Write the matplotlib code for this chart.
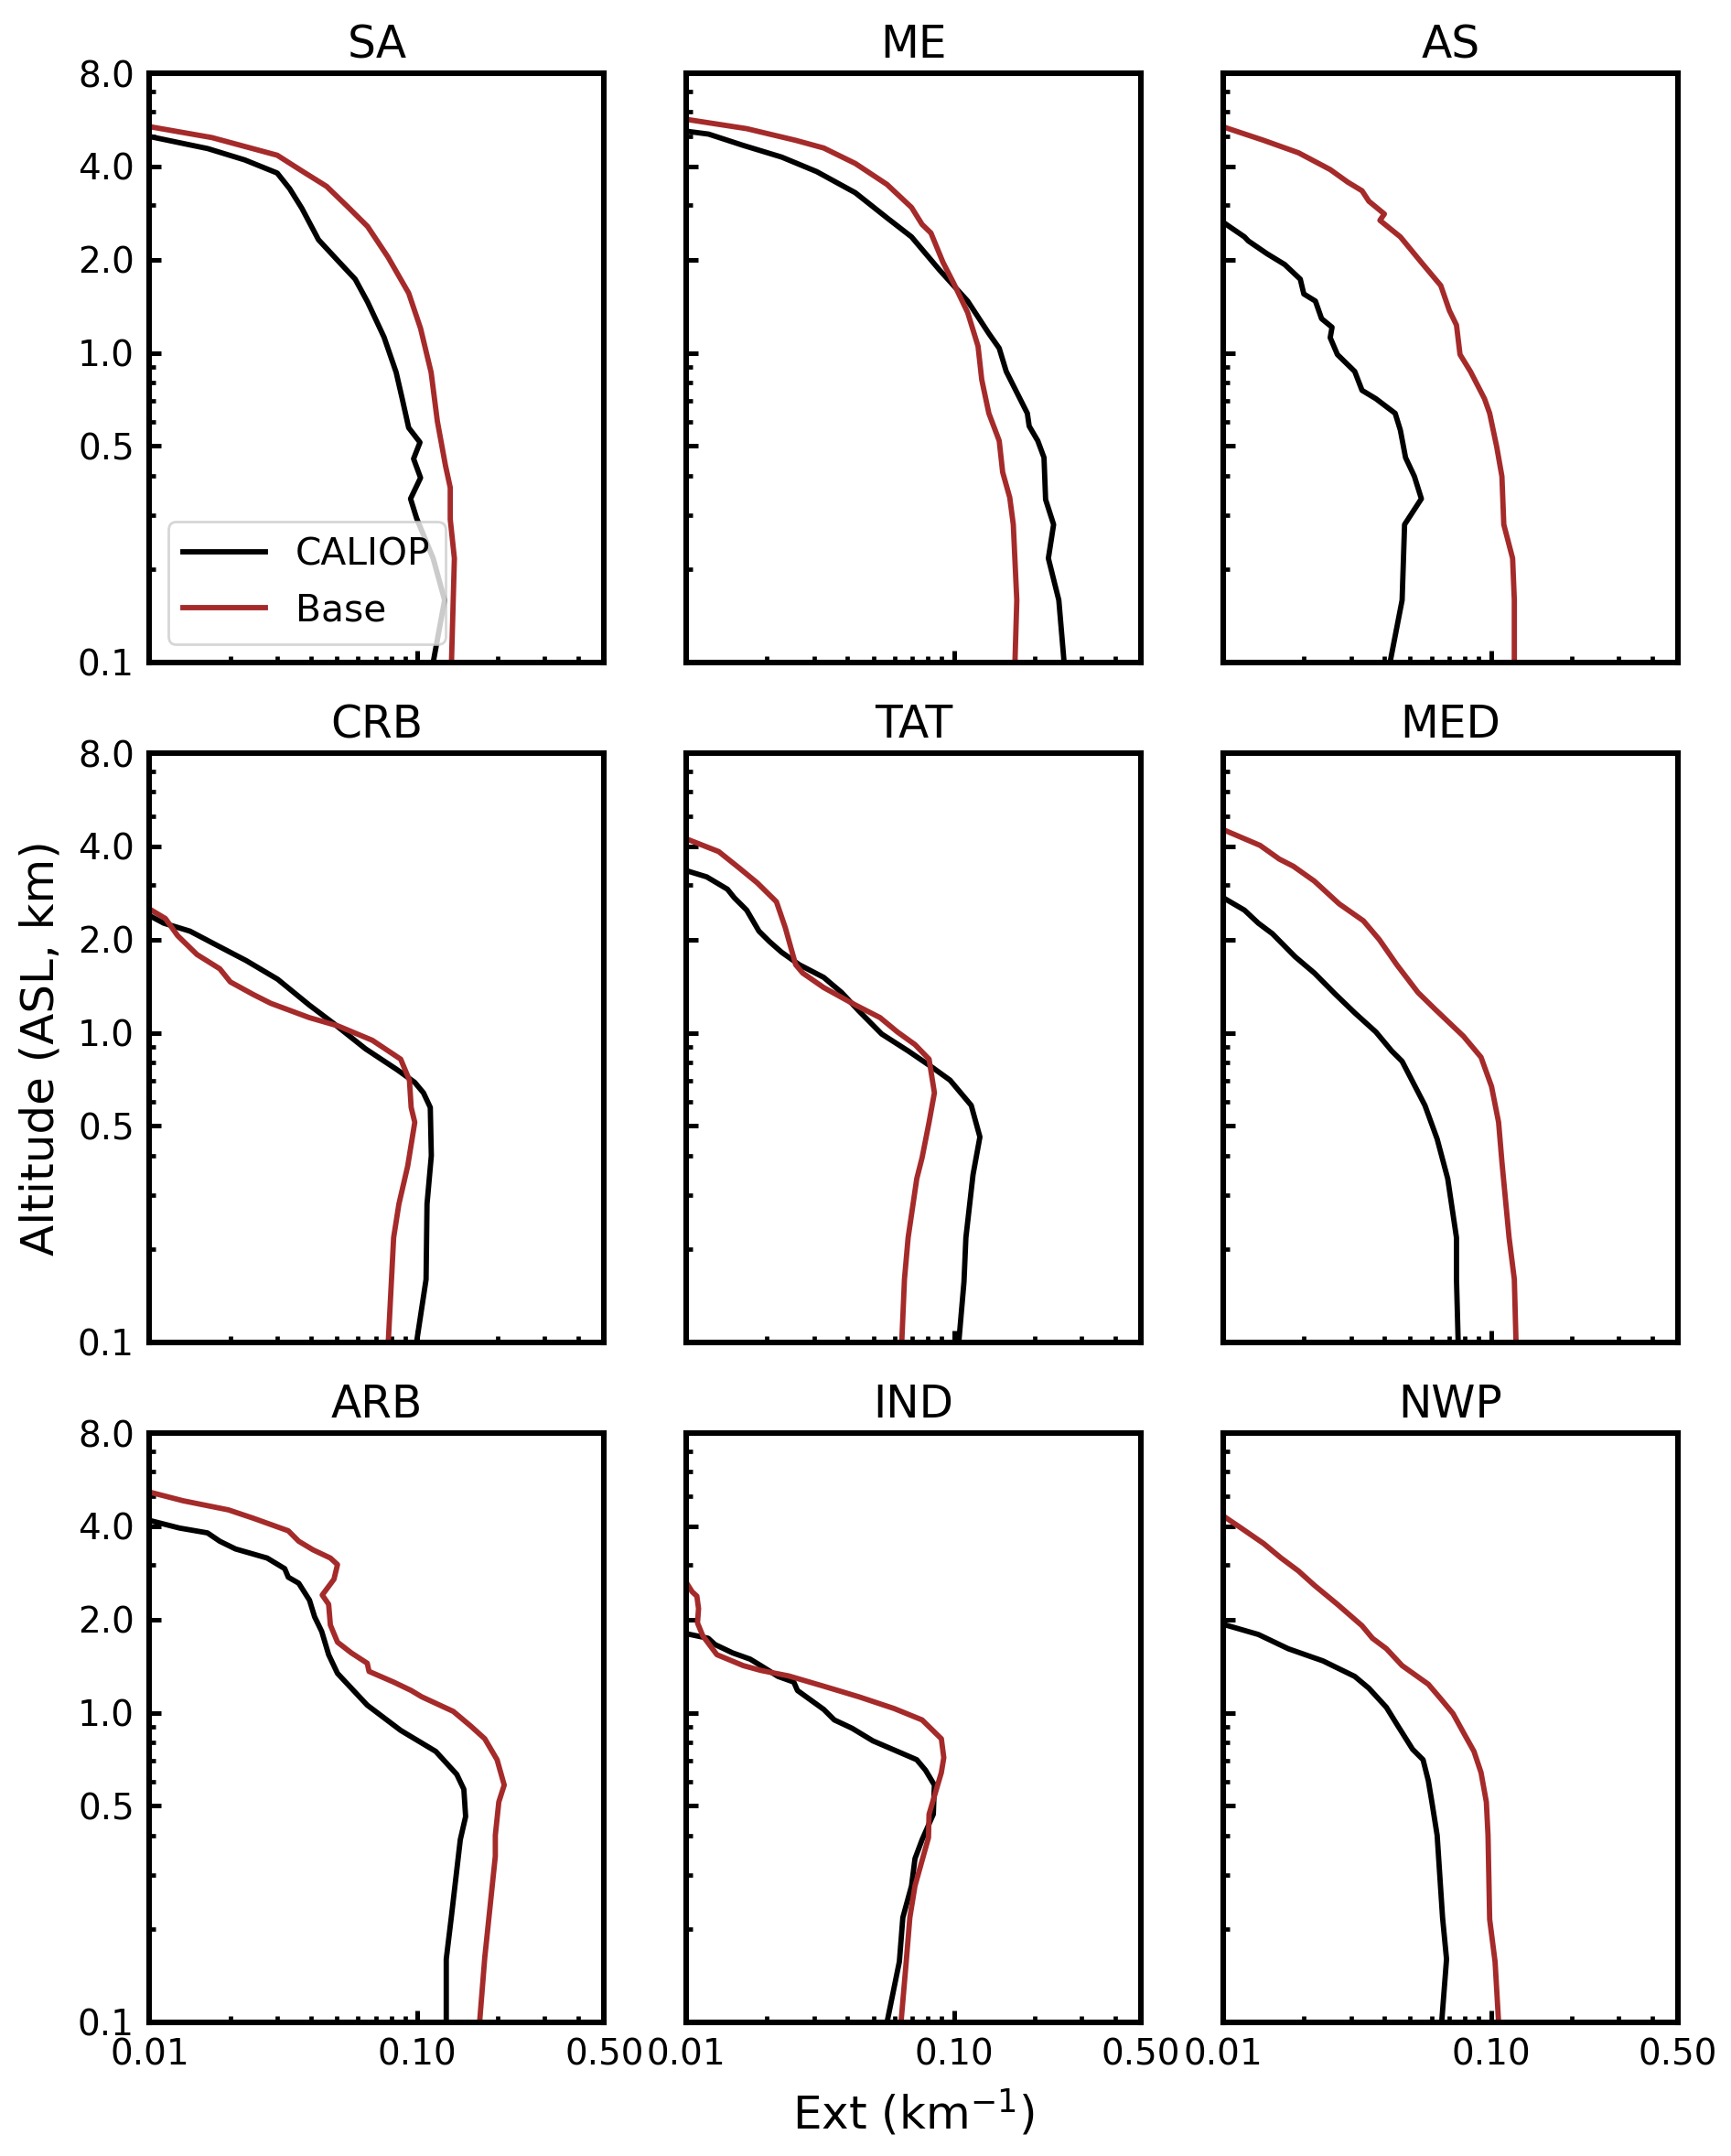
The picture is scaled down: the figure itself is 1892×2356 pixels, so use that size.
import matplotlib
matplotlib.use("Agg")
import matplotlib.pyplot as plt
from matplotlib.ticker import FixedLocator, LogLocator, FuncFormatter, NullFormatter

# ---------------- data ----------------
regions = ["SA", "ME", "AS", "CRB", "TAT", "MED", "ARB", "IND", "NWP"]
series_labels = ["CALIOP", "Base"]
x_ticks = [0.01, 0.1, 0.5]
y_ticks = [0.1, 0.5, 1.0, 2.0, 4.0, 8.0]

sa_alt_caliop = [5.0, 4.57, 4.20, 4.00, 3.81, 3.39, 2.93, 2.32, 1.97, 1.73, 1.46, 1.125, 0.865, 0.71, 0.573, 0.514, 0.455, 0.395, 0.338, 0.292, 0.217, 0.159, 0.10]
sa_ext_caliop = [0.0100, 0.0165, 0.0227, 0.0261, 0.0300, 0.0334, 0.0371, 0.0428, 0.0510, 0.0587, 0.0653, 0.0752, 0.0835, 0.0880, 0.0930, 0.1025, 0.0970, 0.1030, 0.0945, 0.0996, 0.1148, 0.1267, 0.1148]
sa_alt_base = [5.38, 4.96, 4.35, 3.87, 3.45, 2.98, 2.56, 2.04, 1.56, 1.20, 0.865, 0.602, 0.433, 0.367, 0.29, 0.217, 0.10]
sa_ext_base = [0.0100, 0.0171, 0.0300, 0.0371, 0.0459, 0.0547, 0.0653, 0.0778, 0.0930, 0.1030, 0.1128, 0.1190, 0.1276, 0.1330, 0.1330, 0.1378, 0.1344]

me_alt_caliop = [5.2, 5.09, 4.68, 4.29, 3.85, 3.29, 2.73, 2.37, 1.85, 1.47, 1.155, 1.035, 0.871, 0.638, 0.58, 0.52, 0.459, 0.336, 0.279, 0.217, 0.159, 0.10]
me_ext_caliop = [0.0100, 0.0121, 0.0163, 0.0227, 0.0307, 0.0428, 0.0562, 0.0694, 0.0884, 0.1125, 0.135, 0.1476, 0.1568, 0.188, 0.191, 0.2057, 0.217, 0.220, 0.2357, 0.2253, 0.2465, 0.258]
me_alt_base = [5.68, 5.3, 4.86, 4.59, 4.09, 3.50, 2.95, 2.60, 2.44, 1.96, 1.68, 1.35, 1.051, 0.819, 0.638, 0.52, 0.412, 0.341, 0.279, 0.159, 0.10]
me_ext_base = [0.0100, 0.0168, 0.0256, 0.0326, 0.0428, 0.0562, 0.0694, 0.076, 0.082, 0.091, 0.0997, 0.1125, 0.123, 0.127, 0.135, 0.1476, 0.152, 0.1616, 0.1666, 0.1717, 0.169]

as_alt_caliop = [2.64, 2.37, 2.30, 2.09, 1.93, 1.73, 1.55, 1.47, 1.29, 1.21, 1.12, 0.988, 0.871, 0.757, 0.711, 0.638, 0.563, 0.459, 0.399, 0.338, 0.279, 0.159, 0.10]
as_ext_caliop = [0.0100, 0.0120, 0.0124, 0.01458, 0.01696, 0.0194, 0.0200, 0.0221, 0.0233, 0.0255, 0.0251, 0.0267, 0.0310, 0.0330, 0.0372, 0.0439, 0.0459, 0.0480, 0.0518, 0.0550, 0.0476, 0.0466, 0.0420]
as_alt_base = [5.37, 4.86, 4.43, 3.91, 3.56, 3.34, 3.09, 2.81, 2.68, 2.37, 1.96, 1.65, 1.37, 1.23, 0.988, 0.871, 0.711, 0.638, 0.497, 0.399, 0.279, 0.217, 0.159, 0.10]
as_ext_base = [0.0100, 0.01415, 0.0191, 0.0251, 0.0292, 0.0330, 0.0350, 0.0400, 0.0385, 0.0459, 0.0550, 0.0650, 0.0700, 0.0744, 0.0767, 0.0839, 0.0947, 0.0990, 0.1052, 0.1100, 0.1118, 0.1206, 0.1224, 0.1224]

crb_alt_caliop = [2.39, 2.26, 2.13, 1.91, 1.71, 1.49, 1.23, 1.07, 0.888, 0.760, 0.692, 0.640, 0.574, 0.401, 0.280, 0.1597, 0.10]
crb_ext_caliop = [0.0100, 0.0113, 0.01416, 0.0180, 0.0230, 0.0301, 0.0395, 0.0489, 0.0641, 0.0842, 0.0979, 0.1056, 0.112, 0.113, 0.1089, 0.108, 0.0995]
crb_alt_base = [2.51, 2.34, 2.06, 1.79, 1.61, 1.46, 1.33, 1.245, 1.12, 1.054, 0.946, 0.822, 0.703, 0.574, 0.514, 0.371, 0.280, 0.218, 0.10]
crb_ext_base = [0.0100, 0.01146, 0.01273, 0.01504, 0.0183, 0.02004, 0.0244, 0.0284, 0.0395, 0.0504, 0.068, 0.0868, 0.0936, 0.095, 0.098, 0.0922, 0.0855, 0.0817, 0.078]

tat_alt_caliop = [3.34, 3.19, 2.91, 2.73, 2.49, 2.13, 1.97, 1.82, 1.66, 1.51, 1.35, 1.177, 0.991, 0.874, 0.772, 0.703, 0.583, 0.461, 0.348, 0.218, 0.157, 0.10]
tat_ext_caliop = [0.0100, 0.0119, 0.01423, 0.0151, 0.0168, 0.01867, 0.02045, 0.0227, 0.0264, 0.0326, 0.0380, 0.0441, 0.0537, 0.0674, 0.0832, 0.0967, 0.116, 0.125, 0.1178, 0.1108, 0.109, 0.1042]
tat_alt_base = [4.23, 3.85, 3.40, 3.05, 2.65, 2.19, 1.66, 1.56, 1.40, 1.23, 1.12, 1.006, 0.916, 0.822, 0.640, 0.514, 0.395, 0.338, 0.218, 0.16, 0.10]
tat_ext_base = [0.0100, 0.0132, 0.0158, 0.0184, 0.0217, 0.0234, 0.0256, 0.0272, 0.0326, 0.0428, 0.0529, 0.0615, 0.0715, 0.0807, 0.0845, 0.0807, 0.076, 0.0726, 0.0674, 0.0653, 0.0638]

med_alt_caliop = [2.73, 2.49, 2.26, 2.09, 1.76, 1.56, 1.33, 1.16, 1.006, 0.874, 0.809, 0.583, 0.454, 0.338, 0.218, 0.16, 0.10]
med_ext_caliop = [0.0100, 0.0120, 0.01352, 0.01526, 0.01857, 0.0219, 0.0263, 0.0310, 0.0372, 0.0426, 0.0466, 0.0567, 0.0630, 0.0690, 0.0744, 0.0744, 0.0755]
med_alt_base = [4.53, 4.03, 3.64, 3.45, 3.09, 2.61, 2.30, 2.00, 1.66, 1.35, 1.19, 0.975, 0.834, 0.671, 0.514, 0.383, 0.218, 0.16, 0.10]
med_ext_base = [0.0100, 0.01373, 0.0162, 0.01829, 0.0219, 0.0271, 0.0334, 0.0383, 0.0445, 0.0534, 0.0620, 0.0790, 0.0919, 0.1006, 0.1069, 0.1100, 0.1170, 0.1224, 0.1242]

arb_alt_caliop = [4.18, 3.95, 3.81, 3.58, 3.38, 3.16, 2.92, 2.74, 2.62, 2.31, 2.04, 1.83, 1.54, 1.34, 1.058, 0.877, 0.750, 0.632, 0.566, 0.462, 0.389, 0.222, 0.16, 0.10]
arb_ext_caliop = [0.0100, 0.01293, 0.01646, 0.0183, 0.02097, 0.0275, 0.0320, 0.0330, 0.0361, 0.0396, 0.0414, 0.0440, 0.0467, 0.0504, 0.0651, 0.0868, 0.1174, 0.1407, 0.1495, 0.1518, 0.1450, 0.1345, 0.1285, 0.1285]
arb_alt_base = [5.16, 4.84, 4.52, 4.25, 3.87, 3.58, 3.36, 3.16, 3.01, 2.70, 2.40, 2.24, 1.92, 1.69, 1.56, 1.445, 1.36, 1.256, 1.18, 1.126, 1.01, 0.905, 0.824, 0.705, 0.584, 0.515, 0.402, 0.344, 0.162, 0.10]
arb_ext_base = [0.0100, 0.01332, 0.01973, 0.0244, 0.0330, 0.0361, 0.0408, 0.0474, 0.0504, 0.0489, 0.0442, 0.0467, 0.0474, 0.0504, 0.0568, 0.0651, 0.0661, 0.0817, 0.0950, 0.1040, 0.1365, 0.1588, 0.1790, 0.1990, 0.2116, 0.2020, 0.1960, 0.1960, 0.1790, 0.1712]

ind_alt_caliop = [1.80, 1.74, 1.66, 1.56, 1.49, 1.42, 1.31, 1.256, 1.18, 1.025, 0.948, 0.891, 0.811, 0.750, 0.705, 0.652, 0.584, 0.470, 0.389, 0.338, 0.276, 0.218, 0.157, 0.10]
ind_ext_caliop = [0.0100, 0.01206, 0.0128, 0.0149, 0.0173, 0.01896, 0.0220, 0.0252, 0.0260, 0.0326, 0.0357, 0.0416, 0.0498, 0.0615, 0.0726, 0.0783, 0.0845, 0.0837, 0.0760, 0.0715, 0.0694, 0.0644, 0.0625, 0.0562]
ind_alt_base = [2.63, 2.46, 2.38, 2.17, 1.95, 1.77, 1.54, 1.42, 1.37, 1.315, 1.218, 1.126, 1.032, 0.948, 0.824, 0.716, 0.641, 0.470, 0.395, 0.276, 0.218, 0.157, 0.10]
ind_ext_base = [0.0100, 0.0105, 0.01094, 0.0111, 0.0110, 0.01152, 0.0130, 0.0163, 0.01896, 0.0241, 0.0326, 0.0441, 0.0597, 0.0760, 0.0897, 0.0916, 0.0897, 0.0807, 0.0803, 0.0715, 0.0684, 0.0663, 0.0634]

nwp_alt_caliop = [1.93, 1.79, 1.61, 1.47, 1.31, 1.20, 1.041, 0.919, 0.762, 0.705, 0.603, 0.515, 0.402, 0.218, 0.16, 0.10]
nwp_ext_caliop = [0.0100, 0.01352, 0.01748, 0.0236, 0.0310, 0.0350, 0.0407, 0.0445, 0.0510, 0.0558, 0.0584, 0.0602, 0.0630, 0.0660, 0.0683, 0.0655]
nwp_alt_base = [4.32, 3.99, 3.52, 3.16, 2.87, 2.58, 2.24, 1.91, 1.74, 1.61, 1.42, 1.236, 1.109, 0.994, 0.863, 0.750, 0.641, 0.515, 0.402, 0.215, 0.157, 0.10]
nwp_ext_base = [0.0100, 0.01146, 0.01415, 0.01645, 0.0191, 0.0219, 0.0267, 0.0330, 0.0361, 0.0407, 0.0466, 0.0584, 0.0650, 0.0722, 0.0790, 0.0865, 0.0919, 0.0962, 0.0976, 0.0990, 0.1037, 0.1069]

caliop_ext = [sa_ext_caliop, me_ext_caliop, as_ext_caliop, crb_ext_caliop, tat_ext_caliop,
              med_ext_caliop, arb_ext_caliop, ind_ext_caliop, nwp_ext_caliop]
caliop_alt = [sa_alt_caliop, me_alt_caliop, as_alt_caliop, crb_alt_caliop, tat_alt_caliop,
              med_alt_caliop, arb_alt_caliop, ind_alt_caliop, nwp_alt_caliop]
base_ext = [sa_ext_base, me_ext_base, as_ext_base, crb_ext_base, tat_ext_base,
            med_ext_base, arb_ext_base, ind_ext_base, nwp_ext_base]
base_alt = [sa_alt_base, me_alt_base, as_alt_base, crb_alt_base, tat_alt_base,
            med_alt_base, arb_alt_base, ind_alt_base, nwp_alt_base]

# ---------------- figure ----------------
plt.rcParams["font.family"] = ["DejaVu Sans"]
fig, axes = plt.subplots(3, 3, figsize=(9.46, 11.78), dpi=200, sharex=True, sharey=True)
fig.subplots_adjust(left=0.0864, right=0.9693, top=0.9660, bottom=0.0620,
                    wspace=0.181, hspace=0.154)

red = "#a52a2a"
for i, ax in enumerate(axes.flat):
    ax.plot(caliop_ext[i], caliop_alt[i], color="black", lw=2.1, label=series_labels[0])
    ax.plot(base_ext[i], base_alt[i], color=red, lw=2.1, label=series_labels[1])
    ax.set_xscale("log")
    ax.set_yscale("log")
    ax.set_xlim(0.01, 0.5)
    ax.set_ylim(0.1, 8.0)
    ax.xaxis.set_major_locator(FixedLocator(x_ticks))
    ax.xaxis.set_major_formatter(FuncFormatter(lambda v, p: f"{v:.2f}"))
    ax.xaxis.set_minor_locator(LogLocator(base=10, subs=range(2, 10)))
    ax.xaxis.set_minor_formatter(NullFormatter())
    ax.yaxis.set_major_locator(FixedLocator(y_ticks))
    ax.yaxis.set_major_formatter(FuncFormatter(lambda v, p: f"{v:.1f}"))
    ax.yaxis.set_minor_locator(LogLocator(base=10, subs=range(2, 10)))
    ax.yaxis.set_minor_formatter(NullFormatter())
    ax.tick_params(which="both", direction="in", top=False, right=False,
                   labelsize=14, pad=6)
    ax.tick_params(which="major", length=4.8, width=1.8)
    ax.tick_params(which="minor", length=2.5, width=1.7)
    for s in ax.spines.values():
        s.set_linewidth(2.2)
    ax.set_title(regions[i], fontsize=17.5, pad=6)

axes[0, 0].legend(loc="lower left", fontsize=14.7, handlelength=2.2)
axes[1, 0].set_ylabel("Altitude (ASL, km)", fontsize=18, labelpad=6)
axes[2, 1].set_xlabel("Ext (km$^{-1}$)", fontsize=18, labelpad=6)

fig.savefig("out.png", dpi=200)
